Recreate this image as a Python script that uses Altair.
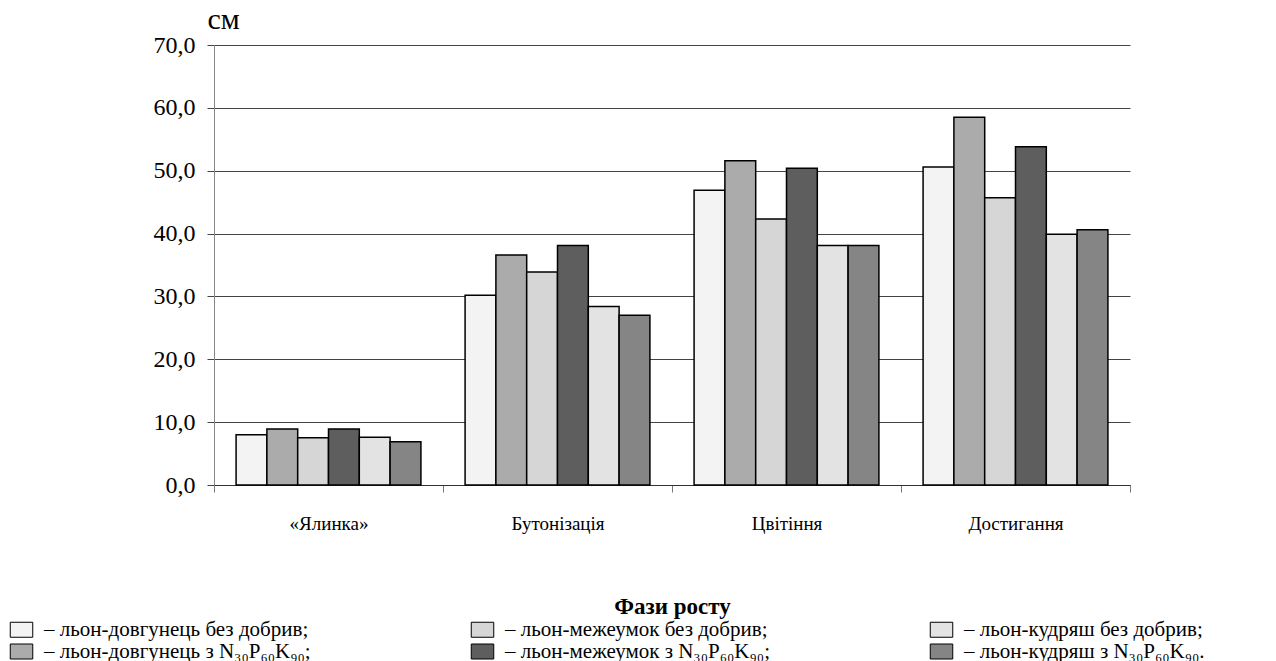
import altair as alt
import pandas as pd

phases = ["«Ялинка»", "Бутонізація", "Цвітіння", "Достигання"]

series_bar_order = [
    "– льон-довгунець без добрив;",
    "– льон-довгунець з N₃₀P₆₀K₉₀;",
    "– льон-межеумок без добрив;",
    "– льон-межеумок з N₃₀P₆₀K₉₀;",
    "– льон-кудряш без добрив;",
    "– льон-кудряш з N₃₀P₆₀K₉₀.",
]

dovhunets_bez = [8.0, 30.2, 46.9, 50.6]
dovhunets_npk = [8.9, 36.6, 51.6, 58.5]
mezheumok_bez = [7.5, 33.9, 42.3, 45.7]
mezheumok_npk = [8.9, 38.1, 50.4, 53.8]
kudriash_bez = [7.6, 28.4, 38.1, 39.9]
kudriash_npk = [6.9, 27.0, 38.1, 40.6]

all_values = [dovhunets_bez, dovhunets_npk, mezheumok_bez,
              mezheumok_npk, kudriash_bez, kudriash_npk]

# approximate tones of the hatch patterns
fills = ["#f3f3f3", "#ababab", "#d6d6d6", "#5e5e5e", "#e3e3e3", "#858585"]

rows = []
for name, vals in zip(series_bar_order, all_values):
    for ph, v in zip(phases, vals):
        rows.append({"phase": ph, "series": name, "value": v})
df = pd.DataFrame(rows)

FONT = "Liberation Serif"

chart = alt.Chart(df).mark_bar(stroke="black", strokeWidth=1.5).encode(
    x=alt.X(
        "phase:N",
        sort=phases,
        scale=alt.Scale(paddingInner=0, paddingOuter=0),
        axis=alt.Axis(
            tickBand="extent",
            labelAngle=0,
            labelFont=FONT,
            labelFontSize=19,
            labelColor="black",
            labelPadding=22,
            tickSize=7,
            tickColor="#777777",
            domainColor="#333333",
            title="Фази росту",
            titleFont=FONT,
            titleFontSize=23,
            titleFontWeight="bold",
            titleColor="black",
            titlePadding=62,
        ),
    ),
    xOffset=alt.XOffset(
        "series:N",
        sort=series_bar_order,
        scale=alt.Scale(paddingOuter=0.717, paddingInner=0),
    ),
    y=alt.Y(
        "value:Q",
        scale=alt.Scale(domain=[0, 70], nice=False),
        axis=alt.Axis(
            values=[0, 10, 20, 30, 40, 50, 60, 70],
            labelExpr="replace(format(datum.value, '.1f'), '.', ',')",
            labelFont=FONT,
            labelFontSize=24,
            labelColor="black",
            labelPadding=12,
            tickSize=7,
            tickColor="#444444",
            gridColor="#444444",
            gridWidth=1,
            domainColor="#888888",
            title="см",
            titleAngle=0,
            titleFont=FONT,
            titleFontSize=30,
            titleFontWeight="normal",
            titleColor="black",
            titleAlign="left",
            titleBaseline="alphabetic",
            titleX=-7,
            titleY=-17,
        ),
    ),
    color=alt.Color(
        "series:N",
        scale=alt.Scale(domain=series_bar_order, range=fills),
        legend=alt.Legend(
            orient="none",
            legendX=-203,
            legendY=574,
            columns=3,
            title=None,
            symbolType="M-1.5,-1L1.5,-1L1.5,1L-1.5,1Z",
            symbolSize=225,
            symbolStrokeColor="black",
            symbolStrokeWidth=1,
            symbolOpacity=1,
            labelFont=FONT,
            labelFontSize=21,
            labelColor="black",
            labelLimit=600,
            labelOffset=12,
            columnPadding=158,
            rowPadding=0,
        ),
    ),
).properties(
    width=916,
    height=440,
    autosize=alt.AutoSizeParams(type="none"),
    padding={"left": 214, "top": 45, "right": 146, "bottom": 176},
).configure_view(
    stroke=None
).configure_axis(
    labelFont=FONT, titleFont=FONT
).configure_legend(
    labelFont=FONT, titleFont=FONT
)

chart.save("out.html", embed_options={"renderer": "svg", "actions": False})
